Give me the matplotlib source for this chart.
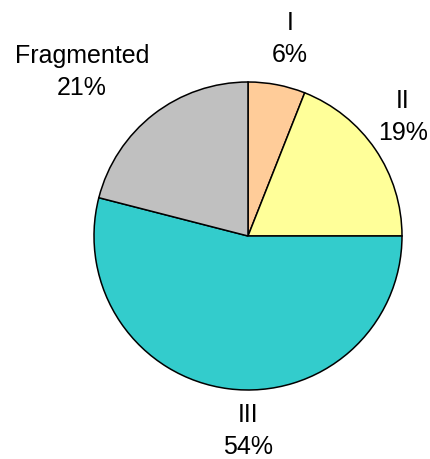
import matplotlib
matplotlib.use('Agg')
import matplotlib.pyplot as plt

categories = ['I', 'II', 'III', 'Fragmented']
shares = [6, 19, 54, 21]
colors = ['#FFCC99', '#FFFF99', '#33CCCC', '#C0C0C0']

# label block centres in pixel coords (y up)
label_xy = [(290, 421), (403, 343), (248, 29), (82, 388)]

plt.rcParams['font.family'] = ['Liberation Sans', 'DejaVu Sans']

fig = plt.figure(figsize=(4.3, 4.6), dpi=100)
ax = fig.add_axes([0, 0, 1, 1])

labels = [f'{c}\n{v}%' for c, v in zip(categories, shares)]
wedges, texts = ax.pie(shares, labels=labels, colors=colors, startangle=90,
                       counterclock=False, center=(248, 223), radius=154,
                       wedgeprops=dict(edgecolor='black', linewidth=1.1),
                       textprops=dict(fontsize=18, linespacing=1.45))
for t, xy in zip(texts, label_xy):
    t.set_position(xy)
    t.set_ha('center')
    t.set_va('center')

ax.set_xlim(0, 430)
ax.set_ylim(0, 460)
ax.set_aspect('equal')
ax.axis('off')

fig.savefig('out.png', dpi=100)
